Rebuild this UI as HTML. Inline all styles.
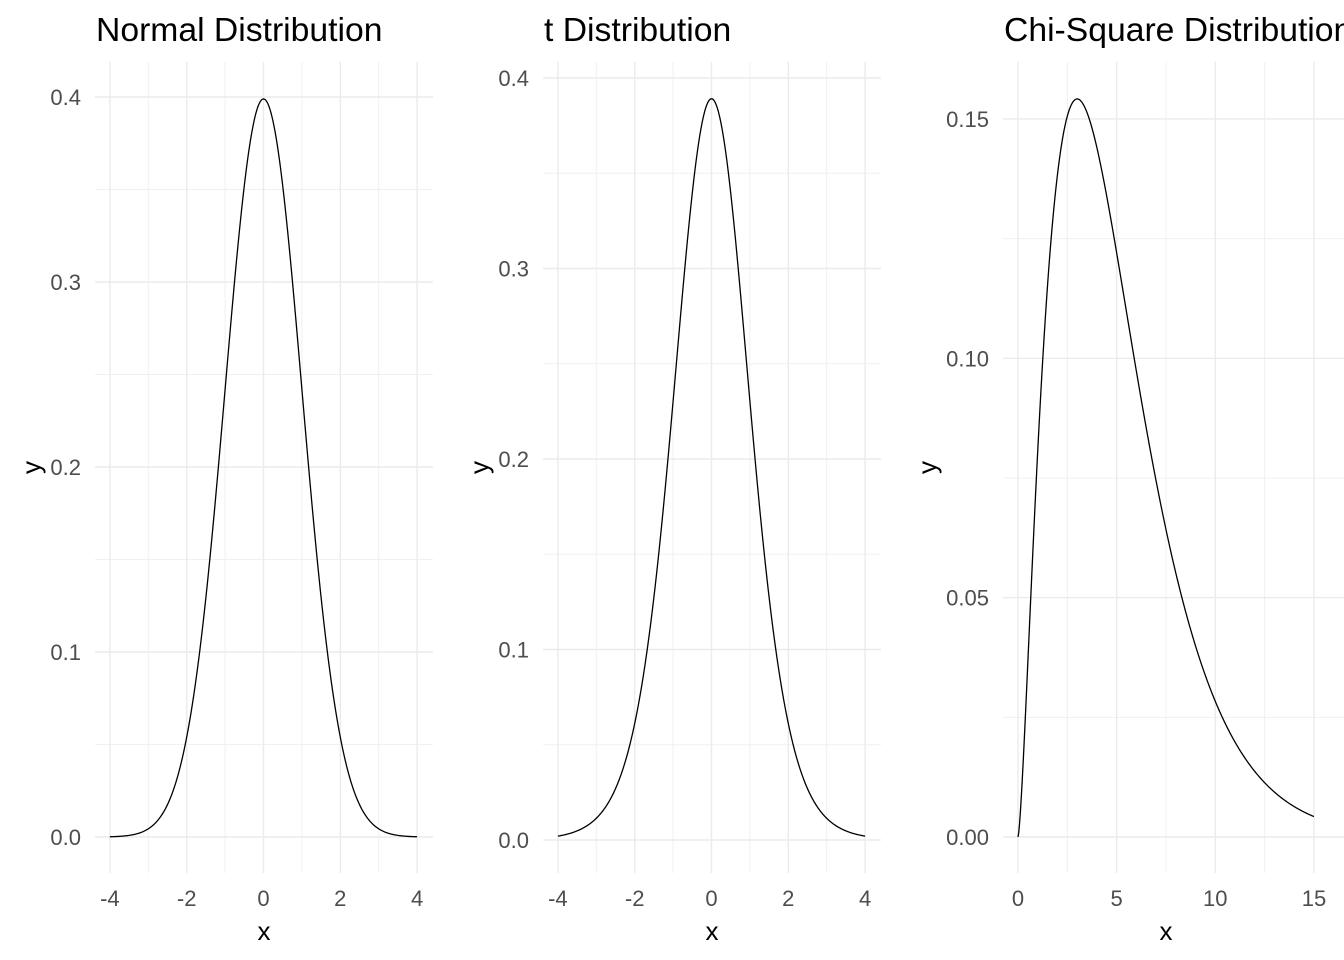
<!DOCTYPE html>
<html><head><meta charset="utf-8"><style>
html,body{margin:0;padding:0;background:#fff;}
svg{display:block;font-family:"Liberation Sans",Arial,sans-serif;}
</style></head><body>
<svg id="s" width="1344" height="960" viewBox="0 0 1344 960" xmlns="http://www.w3.org/2000/svg">
<rect width="1344" height="960" fill="#fff"/>
<text x="96" y="41" font-size="33.7" fill="#000">Normal Distribution</text>
<text x="544" y="41" font-size="33.7" fill="#000">t Distribution</text>
<text x="1004" y="41" font-size="33.7" fill="#000">Chi-Square Distribution</text>
<g id="g"></g>
</svg>
<script>
var g=document.getElementById('g'),h='';
function gam(z){var p=[676.5203681218851,-1259.1392167224028,771.32342877765313,-176.61502916214059,12.507343278686905,-0.13857109526572012,9.9843695780195716e-6,1.5056327351493116e-7];if(z<0.5)return Math.PI/(Math.sin(Math.PI*z)*gam(1-z));z-=1;var x=0.99999999999980993;for(var i=0;i<8;i++)x+=p[i]/(z+i+1);var t=z+7.5;return Math.sqrt(2*Math.PI)*Math.pow(t,z+0.5)*Math.exp(-t)*x;}
function panel(o){
 var X=function(v){return o.x0+v*o.sx},Y=function(v){return o.y0-v*o.sy};
 o.xmin.forEach(function(v){h+='<line x1="'+X(v)+'" x2="'+X(v)+'" y1="'+o.top+'" y2="'+o.bot+'" stroke="#f0f0f0" stroke-width="1"/>';});
 o.ymin.forEach(function(v){h+='<line y1="'+Y(v)+'" y2="'+Y(v)+'" x1="'+o.l+'" x2="'+o.r+'" stroke="#f0f0f0" stroke-width="1"/>';});
 o.xmaj.forEach(function(v){h+='<line x1="'+X(v)+'" x2="'+X(v)+'" y1="'+o.top+'" y2="'+o.bot+'" stroke="#ebebeb" stroke-width="1.4"/>';
  h+='<text x="'+X(v)+'" y="906" font-size="22" fill="#4d4d4d" text-anchor="middle">'+(v<0?'-'+(-v):v)+'</text>';});
 o.ymaj.forEach(function(v,i){h+='<line y1="'+Y(v)+'" y2="'+Y(v)+'" x1="'+o.l+'" x2="'+o.r+'" stroke="#ebebeb" stroke-width="1.4"/>';
  h+='<text x="'+(o.l-14)+'" y="'+(Y(v)+8)+'" font-size="22" fill="#4d4d4d" text-anchor="end">'+o.ylab[i]+'</text>';});
 var d='';for(var i=0;i<=400;i++){var v=o.a+(o.b-o.a)*i/400;d+=(i?'L':'M')+X(v).toFixed(2)+','+Y(o.f(v)).toFixed(2);}
 h+='<path d="'+d+'" fill="none" stroke="#000" stroke-width="1.3"/>';
 h+='<text x="'+o.xl+'" y="940" font-size="26" fill="#000" text-anchor="middle">x</text>';
 h+='<text transform="translate('+o.yl+','+((o.top+o.bot)/2)+') rotate(-90)" font-size="26" fill="#000" text-anchor="middle">y</text>';
}
panel({x0:263.5,sx:38.4,y0:837,sy:1850,l:95,r:433,top:62,bot:873,xmaj:[-4,-2,0,2,4],xmin:[-3,-1,1,3],ymaj:[0,0.1,0.2,0.3,0.4],ymin:[0.05,0.15,0.25,0.35],ylab:['0.0','0.1','0.2','0.3','0.4'],a:-4,b:4,yl:40,xl:264,
 f:function(x){return Math.exp(-x*x/2)/Math.sqrt(2*Math.PI);}});
var c10=gam(5.5)/(Math.sqrt(10*Math.PI)*gam(5));
panel({x0:711.5,sx:38.4,y0:840,sy:1905,l:543,r:881,top:62,bot:873,xmaj:[-4,-2,0,2,4],xmin:[-3,-1,1,3],ymaj:[0,0.1,0.2,0.3,0.4],ymin:[0.05,0.15,0.25,0.35],ylab:['0.0','0.1','0.2','0.3','0.4'],a:-4,b:4,yl:488,xl:712,
 f:function(x){return c10*Math.pow(1+x*x/10,-5.5);}});
var c5=1/(Math.pow(2,2.5)*gam(2.5));
panel({x0:1018,sx:19.73,y0:837,sy:4787,l:1003,r:1344,top:62,bot:873,xmaj:[0,5,10,15],xmin:[2.5,7.5,12.5],ymaj:[0,0.05,0.1,0.15],ymin:[0.025,0.075,0.125],ylab:['0.00','0.05','0.10','0.15'],a:0,b:15,yl:936,xl:1166,
 f:function(x){return c5*Math.pow(x,1.5)*Math.exp(-x/2);}});
g.innerHTML=h;
</script>
</body></html>
